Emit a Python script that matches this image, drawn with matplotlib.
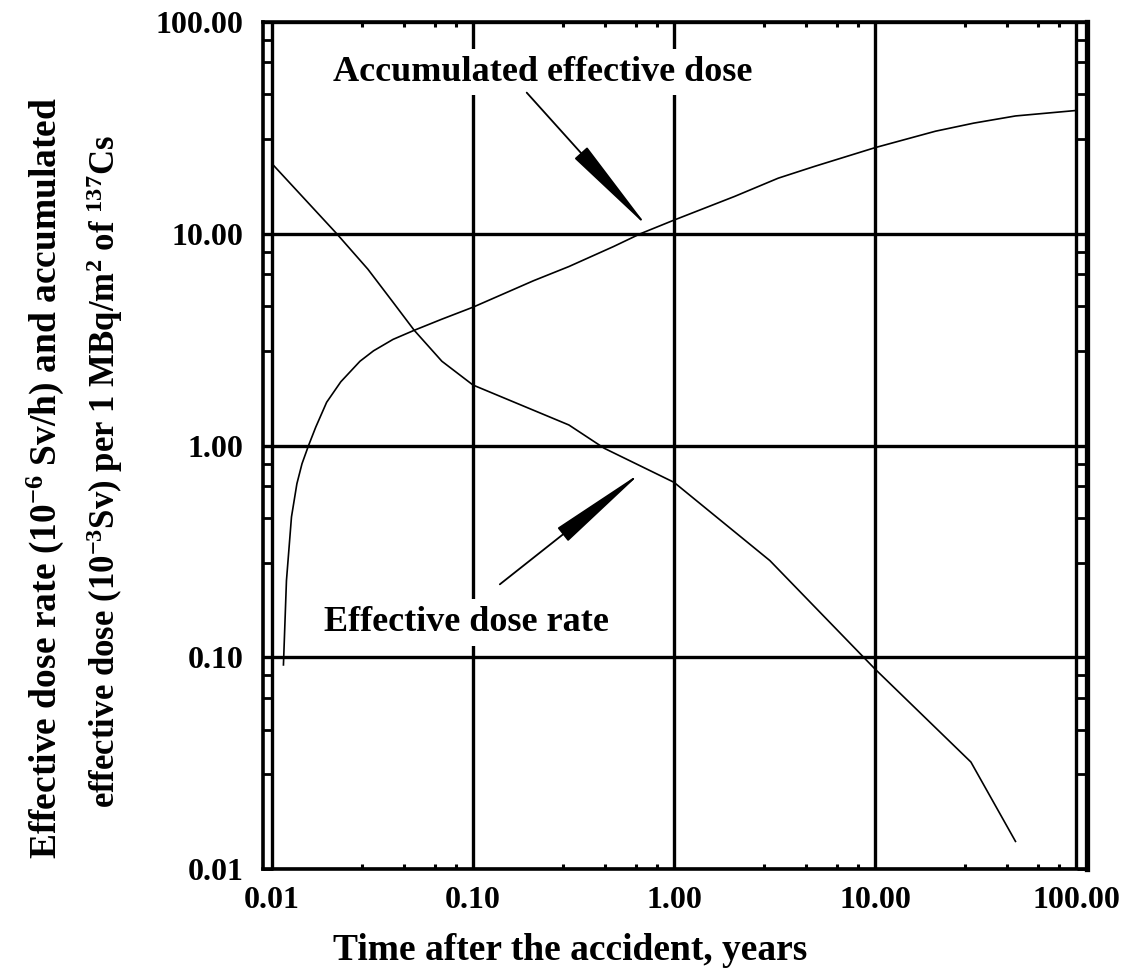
import matplotlib
matplotlib.use('Agg')
import matplotlib.pyplot as plt
from matplotlib.patches import FancyArrowPatch
from matplotlib.ticker import FixedLocator, NullFormatter

plt.rcParams['font.family'] = ['Liberation Serif', 'DejaVu Serif']
plt.rcParams['font.weight'] = 'bold'
plt.rcParams['mathtext.fontset'] = 'custom'
plt.rcParams['mathtext.rm'] = 'Liberation Serif:bold'
plt.rcParams['mathtext.it'] = 'Liberation Serif:bold'
plt.rcParams['mathtext.bf'] = 'Liberation Serif:bold'

# ---- data ----
rate_years = [0.0101, 0.021, 0.03, 0.04, 0.051, 0.07, 0.1, 0.3, 0.45, 1.0, 3.0, 10.0, 30.0, 50.0]
rate_values = [21.2, 10.0, 6.8, 4.75, 3.5, 2.5, 1.93, 1.25, 0.97, 0.67, 0.286, 0.088, 0.032, 0.0135]

cum_years = [0.0114, 0.0118, 0.0125, 0.0133, 0.0141, 0.0152, 0.0165, 0.0187, 0.022, 0.0274,
             0.032, 0.04, 0.051, 0.07, 0.1, 0.2, 0.3, 0.5, 0.68, 1.0, 2.0, 3.3, 5.0, 10.0, 20.0,
             31.0, 50.0, 100.0]
cum_values = [0.092, 0.23, 0.46, 0.66, 0.82, 1.0, 1.22, 1.6, 2.0, 2.5,
              2.8, 3.17, 3.5, 3.95, 4.5, 6.0, 7.0, 8.7, 10.0, 11.6, 15.0, 18.3, 20.8, 25.5, 30.5,
              33.3, 36.0, 38.2]

decades = [0.01, 0.1, 1.0, 10.0, 100.0]
tick_labels = ['0.01', '0.10', '1.00', '10.00', '100.00']
minor_mult = [2.8, 4.55, 6.45, 8.2]

W, H = 1123, 977
fig = plt.figure(figsize=(W / 100, H / 100), dpi=100)
L, R, T, B = 263, 1087, 22, 869
ax = fig.add_axes([L / W, 1 - B / H, (R - L) / W, (B - T) / H])
ax.set_xscale('log')
ax.set_yscale('log')
ax.set_xlim(10 ** (-2 - 9 / 201), 10 ** (2 + 11 / 201))
ax.set_ylim(0.01, 100)

ax.set_xticks(decades)
ax.set_xticklabels(tick_labels)
ax.set_yticks(decades)
ax.set_yticklabels(tick_labels)
minors = [d * m for d in decades[:-1] for m in minor_mult]
ax.xaxis.set_minor_locator(FixedLocator(minors))
ax.yaxis.set_minor_locator(FixedLocator(minors))
ax.xaxis.set_minor_formatter(NullFormatter())
ax.yaxis.set_minor_formatter(NullFormatter())

ax.grid(True, which='major', color='black', linewidth=2.4)

ax.tick_params(axis='x', which='major', length=0, pad=12, labelsize=23)
ax.tick_params(axis='x', which='minor', direction='in', length=3.5, width=2.2, top=True, bottom=True)
ax.tick_params(axis='y', which='both', direction='in', length=7, width=2.0, left=True, right=True)
ax.tick_params(axis='y', which='major', pad=14, labelsize=23)

for s in ['left', 'top', 'bottom']:
    ax.spines[s].set_linewidth(2.6)
ax.spines['right'].set_linewidth(3.8)

ax.plot(rate_years, rate_values, color='black', lw=1.2, zorder=2)
ax.plot(cum_years, cum_values, color='black', lw=1.2, zorder=2)

ax.text(0.223, 58, 'Accumulated effective dose', ha='center', va='center', fontsize=26,
        zorder=3, bbox=dict(facecolor='white', edgecolor='none', pad=5))
ax.text(0.093, 0.146, 'Effective dose rate', ha='center', va='center', fontsize=26,
        zorder=3, bbox=dict(facecolor='white', edgecolor='none', pad=5))

style = '-|>,head_length=3.2,head_width=0.27'
ax.add_patch(FancyArrowPatch((0.185, 46.4), (0.743, 10.7), arrowstyle=style,
                             mutation_scale=20, color='black', lw=1.3,
                             shrinkA=0, shrinkB=0, zorder=4))
ax.add_patch(FancyArrowPatch((0.136, 0.221), (0.69, 0.748), arrowstyle=style,
                             mutation_scale=20, color='black', lw=1.3,
                             shrinkA=0, shrinkB=0, zorder=4))

fig.text(45 / W, 1 - 478 / H, 'Effective dose rate (10$^{-6}$ Sv/h) and accumulated',
         rotation=90, ha='center', va='center', fontsize=27)
fig.text(105 / W, 1 - 472 / H,
         'effective dose (10$^{-3}$Sv) per 1 MBq/m$^{2}$ of $^{137}$Cs',
         rotation=90, ha='center', va='center', fontsize=25)
fig.text(570 / W, 1 - 950 / H, 'Time after the accident, years', ha='center', va='center',
         fontsize=27)

fig.savefig('out.png', dpi=100)
